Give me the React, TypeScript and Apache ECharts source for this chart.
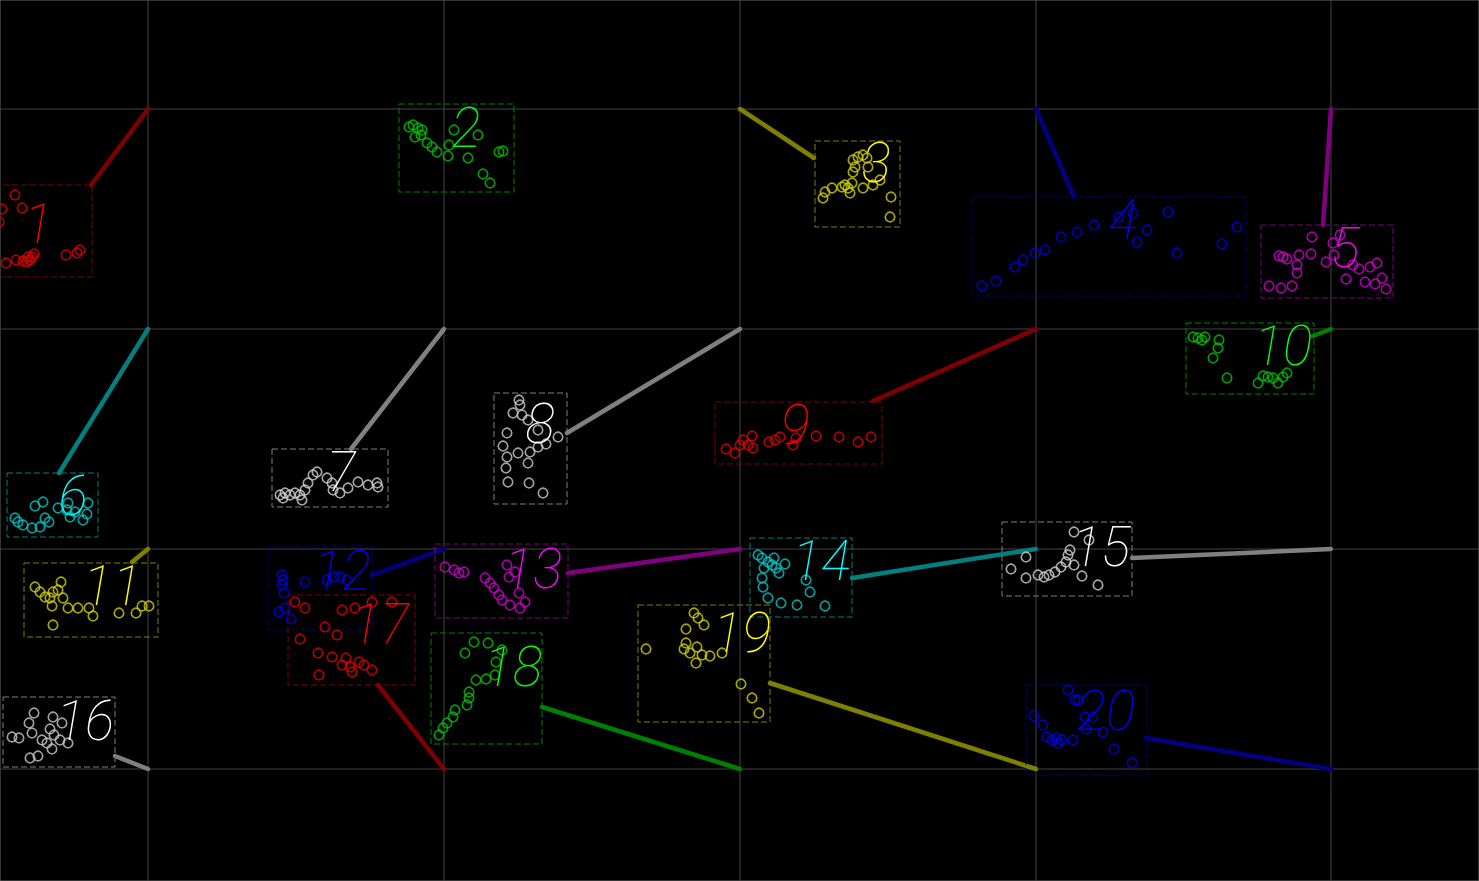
import { useEffect, useRef } from "react";
import * as echarts from "echarts";

// ---- axes / anchor grid ----
const xExtent = [0, 1479];
const yExtent = [0, 881];
const gridCols = [148, 444, 740, 1036, 1331];
const gridRows = [109, 329, 549, 769];

// ---- clusters ----
const clusterNames = ["1", "2", "3", "4", "5", "6", "7", "8", "9", "10", "11", "12", "13", "14", "15", "16", "17", "18", "19", "20"];

const labelPos = [
  [38, 224], [466, 128], [876, 163], [1123, 220], [1345, 248],
  [73, 496], [341, 472], [540, 424], [795, 425], [1283, 346],
  [112, 586], [342, 571], [533, 569], [821, 561], [1101, 547],
  [85, 721], [380, 624], [513, 667], [742, 633], [1106, 711],
];

const boxes = [
  [-6, 185, 92, 277], [399, 104, 514, 192], [815, 141, 900, 227], [972, 197, 1246, 296], [1261, 225, 1393, 298],
  [7, 473, 98, 537], [272, 449, 388, 507], [494, 393, 567, 504], [715, 402, 882, 464], [1186, 323, 1314, 394],
  [24, 563, 158, 637], [268, 546, 372, 630], [435, 544, 568, 618], [750, 538, 852, 617], [1002, 522, 1132, 596],
  [3, 697, 115, 767], [288, 595, 415, 685], [431, 633, 542, 744], [638, 605, 770, 722], [1026, 685, 1147, 775],
];

const linkEnds: (number[] | null)[] = [
  [91, 185], null, [814, 158], [1074, 197], [1323, 225],
  [59, 473], [351, 449], [567, 433], [873, 401], [1313, 336],
  [132, 562], [372, 575], [568, 573], [852, 578], [1132, 558],
  [115, 756], [378, 685], [542, 707], [770, 683], [1146, 738],
];

const pts1 = [[15, 195], [22, 208], [2, 209], [-1, 222], [6, 263], [16, 260], [23, 261], [27, 262], [30, 260], [28, 257], [32, 257], [34, 254], [66, 255], [77, 253], [80, 250]];
const pts2 = [[409, 127], [413, 125], [418, 128], [422, 130], [415, 137], [421, 135], [427, 143], [432, 147], [437, 152], [448, 156], [449, 145], [454, 130], [478, 135], [468, 158], [499, 152], [503, 151], [483, 174], [490, 183]];
const pts3 = [[853, 160], [858, 157], [863, 155], [867, 158], [855, 167], [853, 172], [868, 167], [845, 185], [848, 188], [850, 193], [842, 187], [852, 183], [832, 188], [825, 192], [823, 198], [863, 188], [873, 185], [880, 180], [891, 197], [890, 217]];
const pts4 = [[982, 286], [996, 281], [1015, 267], [1023, 260], [1035, 253], [1045, 250], [1061, 237], [1077, 232], [1094, 225], [1119, 217], [1133, 213], [1147, 230], [1137, 242], [1168, 212], [1177, 253], [1222, 244], [1237, 227]];
const pts5 = [[1312, 237], [1279, 256], [1283, 257], [1287, 259], [1299, 255], [1311, 254], [1297, 265], [1297, 273], [1269, 286], [1281, 288], [1292, 286], [1333, 243], [1340, 235], [1334, 255], [1326, 262], [1353, 265], [1359, 269], [1370, 267], [1377, 263], [1346, 279], [1365, 282], [1375, 284], [1382, 278], [1386, 289]];
const pts6 = [[35, 506], [43, 502], [15, 518], [18, 522], [23, 525], [32, 528], [40, 527], [45, 518], [49, 522], [58, 508], [68, 503], [67, 510], [70, 517], [75, 512], [88, 503], [87, 514], [83, 520]];
const pts7 = [[280, 495], [285, 493], [290, 495], [295, 493], [300, 495], [302, 500], [305, 490], [308, 483], [313, 475], [317, 472], [327, 478], [332, 483], [333, 490], [340, 493], [348, 488], [358, 482], [368, 485], [377, 483], [378, 487], [283, 498]];
const pts8 = [[519, 400], [520, 405], [513, 413], [522, 415], [528, 420], [538, 430], [507, 433], [558, 437], [546, 444], [538, 447], [503, 446], [530, 452], [518, 453], [507, 457], [528, 463], [506, 468], [508, 482], [529, 483], [543, 493]];
const pts9 = [[726, 449], [735, 453], [740, 445], [743, 440], [752, 436], [753, 448], [748, 445], [769, 442], [775, 440], [780, 437], [793, 445], [796, 438], [816, 436], [839, 437], [858, 442], [871, 437]];
const pts10 = [[1193, 337], [1198, 338], [1202, 340], [1205, 337], [1219, 340], [1218, 348], [1213, 358], [1227, 378], [1258, 383], [1263, 376], [1268, 377], [1273, 378], [1278, 383], [1283, 377], [1287, 373]];
const pts11 = [[35, 587], [40, 592], [45, 597], [50, 598], [53, 592], [61, 582], [58, 590], [63, 598], [52, 606], [68, 608], [78, 608], [89, 608], [93, 616], [53, 625], [119, 613], [136, 613], [142, 606], [149, 606]];
const pts12 = [[282, 575], [283, 580], [282, 585], [284, 593], [279, 612], [285, 608], [291, 619], [305, 582], [327, 580], [334, 577], [340, 577], [347, 580]];
const pts13 = [[445, 567], [454, 570], [459, 573], [464, 572], [485, 578], [490, 583], [494, 588], [499, 595], [502, 600], [507, 565], [509, 577], [515, 572], [510, 605], [519, 593], [520, 608], [525, 602]];
const pts14 = [[758, 555], [762, 558], [768, 562], [772, 565], [776, 568], [774, 558], [779, 573], [785, 564], [764, 568], [762, 578], [763, 587], [768, 598], [781, 603], [797, 605], [806, 580], [810, 592], [825, 606]];
const pts15 = [[1074, 532], [1089, 540], [1026, 557], [1011, 569], [1026, 578], [1038, 575], [1044, 577], [1049, 575], [1055, 572], [1061, 567], [1066, 562], [1068, 555], [1070, 550], [1074, 565], [1082, 576], [1098, 585]];
const pts16 = [[34, 713], [29, 723], [32, 733], [12, 737], [19, 738], [53, 717], [62, 723], [50, 729], [54, 735], [42, 740], [47, 743], [60, 740], [68, 743], [52, 749], [30, 758], [38, 756]];
const pts17 = [[295, 602], [305, 608], [342, 610], [355, 608], [372, 602], [392, 602], [325, 627], [337, 635], [300, 639], [318, 653], [332, 657], [346, 658], [342, 665], [350, 667], [359, 662], [364, 665], [372, 670], [352, 672], [319, 675]];
const pts18 = [[474, 642], [488, 643], [465, 653], [502, 650], [496, 662], [495, 675], [476, 680], [486, 679], [469, 692], [469, 698], [467, 705], [455, 710], [453, 717], [447, 723], [443, 728], [439, 735]];
const pts19 = [[694, 613], [698, 618], [704, 625], [686, 629], [646, 649], [686, 643], [684, 649], [690, 653], [697, 647], [702, 655], [696, 663], [710, 656], [722, 653], [741, 684], [752, 698], [759, 713]];
const pts20 = [[1068, 690], [1078, 700], [1075, 700], [1034, 716], [1043, 725], [1047, 737], [1052, 740], [1057, 738], [1062, 740], [1058, 743], [1073, 740], [1085, 717], [1093, 717], [1086, 729], [1103, 732], [1114, 749], [1132, 763]];

const clusterPoints = [pts1, pts2, pts3, pts4, pts5, pts6, pts7, pts8, pts9, pts10, pts11, pts12, pts13, pts14, pts15, pts16, pts17, pts18, pts19, pts20];

// ---- styles ----
const pointColors = ["#e00000", "#00c400", "#d2d200", "#0000e6", "#d000d0", "#00c8c8", "#cfcfcf", "#c8c8c8"];
const labelColors = ["#ff0000", "#00ff00", "#ffff00", "#0000ff", "#ff00ff", "#00ffff", "#ffffff", "#ffffff"];
const darkColors = ["#800000", "#008000", "#808000", "#000080", "#800080", "#008080", "#808080", "#808080"];

export default function App() {
  const ref = useRef<HTMLDivElement>(null);
  useEffect(() => {
    if (!ref.current) return;
    const chart = echarts.init(ref.current, null, { renderer: "svg" });

    const gridV = {
      type: "custom",
      z: 0,
      silent: true,
      data: gridCols.map((c) => [c, yExtent[0]]),
      renderItem: (params: any, api: any) => {
        const c = gridCols[params.dataIndex];
        const a = api.coord([c, yExtent[0]]);
        const b = api.coord([c, yExtent[1]]);
        return { type: "line", shape: { x1: a[0], y1: a[1], x2: b[0], y2: b[1] }, style: { stroke: "#444444", lineWidth: 1 } };
      },
    };
    const gridH = {
      type: "custom",
      z: 0,
      silent: true,
      data: gridRows.map((r) => [xExtent[0], r]),
      renderItem: (params: any, api: any) => {
        const r = gridRows[params.dataIndex];
        const a = api.coord([xExtent[0], r]);
        const b = api.coord([xExtent[1], r]);
        return { type: "line", shape: { x1: a[0], y1: a[1], x2: b[0], y2: b[1] }, style: { stroke: "#444444", lineWidth: 1 } };
      },
    };

    const frames = {
      type: "custom",
      z: 1,
      silent: true,
      data: labelPos.map((p) => [p[0], p[1]]),
      renderItem: (params: any, api: any) => {
        const i = params.dataIndex;
        const dark = darkColors[i % 8];
        const [x0, y0, x1, y1] = boxes[i];
        const p0 = api.coord([x0, y0]);
        const p1 = api.coord([x1, y1]);
        const children: any[] = [
          {
            type: "rect",
            shape: { x: Math.min(p0[0], p1[0]), y: Math.min(p0[1], p1[1]), width: Math.abs(p1[0] - p0[0]), height: Math.abs(p1[1] - p0[1]) },
            style: { fill: "none", stroke: dark, lineWidth: 1, lineDash: [6, 3] },
          },
        ];
        const end = linkEnds[i];
        if (end) {
          const a = api.coord([gridCols[i % 5], gridRows[Math.floor(i / 5)]]);
          const b = api.coord(end);
          children.push({
            type: "line",
            shape: { x1: a[0], y1: a[1], x2: b[0], y2: b[1] },
            style: { stroke: dark, lineWidth: 4.5, lineCap: "round" },
          });
        }
        return { type: "group", children };
      },
    };

    const scatters = clusterPoints.map((pts, i) => ({
      type: "scatter",
      name: "cluster " + clusterNames[i],
      z: 2,
      clip: false,
      symbol: "circle",
      symbolSize: 9.5,
      silent: true,
      itemStyle: { color: "rgba(0,0,0,0)", borderColor: pointColors[i % 8], borderWidth: 1.7 },
      data: pts,
    }));

    const labels = {
      type: "custom",
      z: 3,
      silent: true,
      data: labelPos.map((p) => [p[0], p[1]]),
      renderItem: (params: any, api: any) => {
        const i = params.dataIndex;
        const p = api.coord(labelPos[i]);
        return {
          type: "text",
          x: p[0],
          y: p[1],
          style: {
            text: clusterNames[i],
            fill: labelColors[i % 8],
            fontSize: 55,
            fontFamily: "Roboto",
            fontWeight: 100,
            fontStyle: "italic",
            align: "center",
            verticalAlign: "middle",
          },
        };
      },
    };

    chart.setOption({
      animation: false,
      backgroundColor: "#000000",
      grid: { left: 0, right: 0, top: 0, bottom: 0, show: true, borderColor: "#6a6a6a", borderWidth: 1, backgroundColor: "transparent" },
      xAxis: { type: "value", min: xExtent[0], max: xExtent[1], show: false },
      yAxis: { type: "value", min: yExtent[0], max: yExtent[1], inverse: true, show: false },
      series: [gridV, gridH, frames, ...scatters, labels],
    });
    return () => chart.dispose();
  }, []);
  return <div ref={ref} style={{ position: "fixed", left: 0, top: 0, width: 1479, height: 881 }} />;
}
